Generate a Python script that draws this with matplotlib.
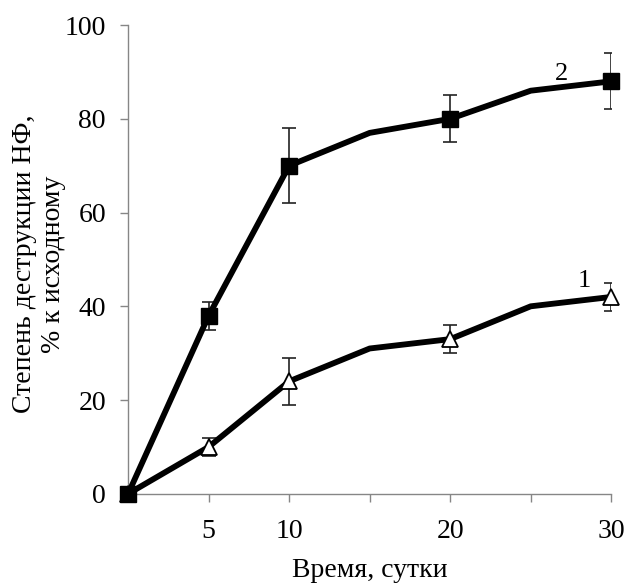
import matplotlib
matplotlib.use("Agg")
import matplotlib.pyplot as plt

plt.rcParams['font.family'] = ['Liberation Serif', 'DejaVu Serif']

# data
days = [0, 5, 10, 15, 20, 25, 30]
series1 = [0, 10, 24, 31, 33, 40, 42]   # curve 1, triangles
series2 = [0, 38, 70, 77, 80, 86, 88]   # curve 2, squares
err_days = [5, 10, 20, 30]
err1_vals = [10, 24, 33, 42]
err1 = [2, 5, 3, 3]
err2_vals = [38, 70, 80, 88]
err2 = [3, 8, 5, 6]
marker_idx = [0, 1, 2, 4, 6]
xticks = [5, 10, 15, 20, 25, 30]
xticklabels = ['5', '10', '', '20', '', '30']
yticks = [0, 20, 40, 60, 80, 100]

fig = plt.figure(figsize=(6.25, 5.83), dpi=100)
ax = fig.add_axes([0.205, 0.153, 0.773, 0.804])

axis_gray = '#868686'

# error bars
ax.errorbar(err_days, err1_vals, yerr=err1, fmt='none', ecolor='#222222',
            elinewidth=1.2, capsize=5, capthick=1.2, zorder=2)
ax.errorbar(err_days, err2_vals, yerr=err2, fmt='none', ecolor='#222222',
            elinewidth=1.2, capsize=5, capthick=1.2, zorder=2)

# curves
ax.plot(days, series1, color='black', linewidth=4.2, marker='^', markevery=marker_idx,
        markersize=12, markerfacecolor='white', markeredgecolor='black',
        markeredgewidth=1.3, clip_on=False, zorder=3)
ax.plot(days, series2, color='black', linewidth=4.2, marker='s', markevery=marker_idx,
        markersize=12, markerfacecolor='black', markeredgecolor='black',
        clip_on=False, zorder=4)

ax.text(28.3, 45.5, '1', fontsize=19, ha='center', va='center')
ax.text(26.9, 89.5, '2', fontsize=19, ha='center', va='center')

ax.set_xlim(0, 30)
ax.set_ylim(0, 100)
ax.set_xticks(xticks)
ax.set_xticklabels(xticklabels)
ax.set_yticks(yticks)

for side in ['top', 'right']:
    ax.spines[side].set_visible(False)
for side in ['left', 'bottom']:
    ax.spines[side].set_color(axis_gray)
    ax.spines[side].set_linewidth(1.0)

ax.tick_params(axis='both', direction='out', length=6, width=1.0, color=axis_gray,
               labelsize=20, labelcolor='black')
ax.tick_params(axis='x', pad=12)
ax.tick_params(axis='y', pad=10)

ax.set_xlabel('Время, сутки', fontsize=20, labelpad=10)
ax.set_ylabel('Степень деструкции НФ,\n% к исходному', fontsize=20,
              linespacing=1.2)
ax.yaxis.set_label_coords(-0.128, 0.49)

fig.savefig('out.png', dpi=100)
